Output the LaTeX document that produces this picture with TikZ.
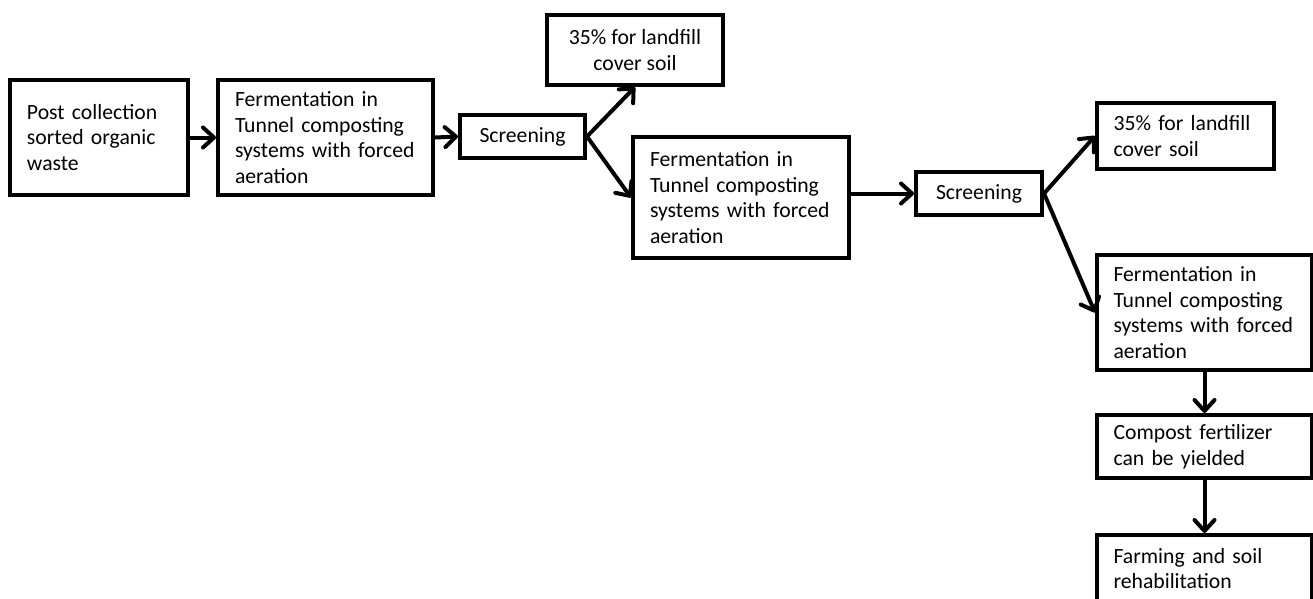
\documentclass[tikz,border=0pt]{standalone}
\usepackage{fontspec}
\setmainfont{Carlito}
\usetikzlibrary{arrows.meta}
\begin{document}
\begin{tikzpicture}[x=1pt,y=-1pt,
  box/.style={draw, line width=4pt, rectangle, inner ysep=0pt,
    font=\fontsize{21.7}{25.7}\selectfont},
  lbox/.style={box, align=left, inner xsep=17pt},
  cbox/.style={box, align=center, inner xsep=4pt},
  flow/.style={line width=4pt, line join=round,
    -{Straight Barb[length=11pt,width=20pt,line join=round,line cap=round]}}]
\useasboundingbox (0,0) rectangle (1313,598);

% first stage
\node[lbox, text width=144pt, minimum width=178pt, minimum height=115pt] (A) at (99,137.5)
  {Post collection\\sorted organic\\waste};
\node[lbox, text width=181pt, minimum width=215pt, minimum height=115pt] (B) at (325.5,137.5)
  {Fermentation in\\Tunnel composting\\systems with forced\\aeration};
\node[cbox, minimum width=125pt, minimum height=43pt] (S1) at (522.5,136.5) {Screening};
\node[cbox, minimum width=176pt, minimum height=70pt] (T1) at (635,50)
  {35\% for landfill\\cover soil};

% second stage
\node[lbox, text width=182pt, minimum width=216pt, minimum height=121pt] (C) at (741,197.5)
  {Fermentation in\\Tunnel composting\\systems with forced\\aeration};
\node[cbox, minimum width=126pt, minimum height=43pt] (S2) at (979,193.5) {Screening};
\node[lbox, text width=144pt, inner xsep=16pt, minimum width=177pt, minimum height=66pt] (T2) at (1185.5,136)
  {35\% for landfill\\cover soil};

% third stage
\node[lbox, text width=182pt, inner xsep=16pt, minimum width=215pt, minimum height=115pt] (D) at (1204.5,312.5)
  {Fermentation in\\Tunnel composting\\systems with forced\\aeration};
\node[lbox, text width=182pt, inner xsep=16pt, minimum width=215pt, minimum height=63pt] (E) at (1204.5,446.5)
  {Compost fertilizer\\can be yielded};
\node[lbox, text width=182pt, inner xsep=16pt, minimum width=215pt, minimum height=67pt] (F) at (1204.5,568.5)
  {Farming and soil\\rehabilitation};

% connectors
\draw[flow] (A.east) -- (B.west);
\draw[flow] (B.east) -- (S1.west);
\draw[flow] (S1.east) -- (T1.south);
\draw[flow] (S1.east) -- (C.west);
\draw[flow] (C.east |- S2.west) -- (S2.west);
\draw[flow] (S2.east) -- (T2.west);
\draw[flow] (S2.east) -- (D.west);
\draw[flow] (D.south) -- (E.north);
\draw[flow] (E.south) -- (F.north);
\end{tikzpicture}
\end{document}
